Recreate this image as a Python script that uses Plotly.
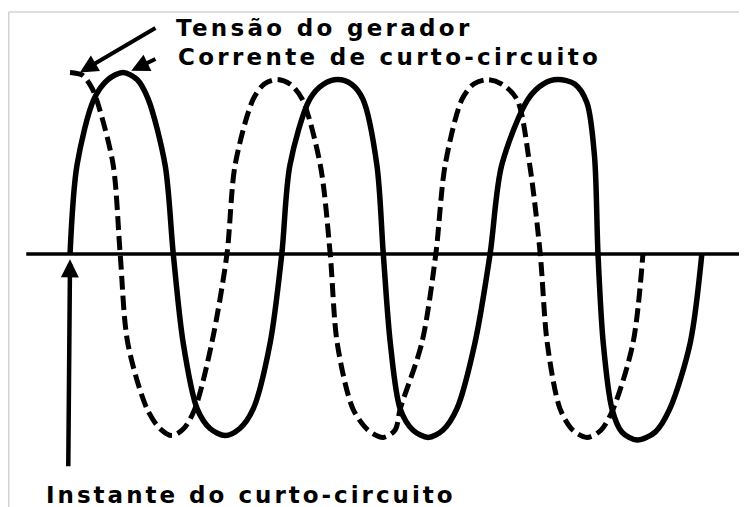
import plotly.graph_objects as go

# Electrical angle (degrees) and per-unit amplitude
# Solid curve: short-circuit current
solid_deg = [0, 12, 41, 65, 91, 115, 134, 163, 177,
             194, 218, 240, 266, 291, 314, 343, 363,
             377, 411, 435, 459, 482, 502, 526, 537,
             549, 566, 588, 614, 639, 663, 694, 720,
             740, 785, 811, 836, 865, 886, 899, 905,
             914, 929, 946, 972, 1003, 1028, 1063, 1083]
solid_pu = [0, 0.50, 0.87, 0.98, 1.02, 0.98, 0.87, 0.50, 0,
            -0.50, -0.87, -0.98, -1.02, -0.98, -0.87, -0.50, 0,
            0.50, 0.87, 0.955, 0.98, 0.955, 0.87, 0.50, 0,
            -0.50, -0.87, -0.99, -1.03, -0.99, -0.87, -0.50, 0,
            0.50, 0.87, 0.955, 0.98, 0.955, 0.85, 0.55, 0,
            -0.50, -0.87, -1.00, -1.045, -1.00, -0.87, -0.50, 0]

# Dashed curve: generator voltage
dashed_deg = [0, 21, 38, 51, 74, 86,
              99, 132, 154, 175, 195, 214, 243, 269,
              283, 314, 333, 355, 377, 398, 429, 446,
              458, 485, 511, 537, 557, 566, 603, 627,
              643, 672, 692, 716, 740, 766, 788, 806,
              818, 840, 862, 886, 910, 931, 965, 982]
dashed_pu = [1.02, 1.005, 0.93, 0.81, 0.50, 0,
             -0.50, -0.87, -0.98, -1.02, -0.98, -0.87, -0.50, 0,
             0.50, 0.87, 0.955, 0.98, 0.955, 0.87, 0.50, 0,
             -0.50, -0.87, -0.99, -1.03, -0.99, -0.87, -0.50, 0,
             0.50, 0.87, 0.955, 0.98, 0.955, 0.87, 0.50, 0,
             -0.50, -0.87, -0.99, -1.03, -0.99, -0.87, -0.50, 0]

axis_deg = [-75, 1157]
axis_pu = [0, 0]

label_voltage = "Tensão do gerador"
label_current = "Corrente de curto-circuito"
label_instant = "Instante do curto-circuito"

# page body keeps an 8px margin, so the figure is 739x499 and the ranges match the window
X_RANGE = [-106.3, 1160.4]
Y_RANGE = [-1.421, 1.382]

fig = go.Figure()
fig.add_trace(go.Scatter(x=axis_deg, y=axis_pu, mode="lines",
                         line=dict(color="black", width=3.5), hoverinfo="skip"))
fig.add_trace(go.Scatter(x=dashed_deg, y=dashed_pu, mode="lines",
                         line=dict(color="black", width=5, dash="14px,6px", shape="spline", smoothing=0.85),
                         name=label_voltage))
fig.add_trace(go.Scatter(x=solid_deg, y=solid_pu, mode="lines",
                         line=dict(color="black", width=5.5, shape="spline", smoothing=0.85),
                         name=label_current))

FONT = dict(family="DejaVu Sans", size=23, color="black", weight="bold")

def lbl(t, sp):
    return '<span style="letter-spacing:%.2fpx">' % sp + t + '</span>'

fig.add_annotation(x=180, y=1.27, xref="x", yref="y", text=lbl(label_voltage, 3.3),
                   showarrow=False, xanchor="left", yanchor="middle", font=FONT, borderpad=0)
fig.add_annotation(x=183, y=1.104, xref="x", yref="y", text=lbl(label_current, 3.3),
                   showarrow=False, xanchor="left", yanchor="middle", font=FONT, borderpad=0)
fig.add_annotation(x=-43, y=-1.351, xref="x", yref="y", text=lbl(label_instant, 3.0),
                   showarrow=False, xanchor="left", yanchor="middle", font=FONT, borderpad=0)

# Arrows
fig.add_annotation(x=17, y=1.02, ax=149, ay=1.275, xref="x", yref="y", axref="x", ayref="y",
                   text="", showarrow=True, arrowhead=2, arrowsize=0.9, arrowwidth=4, arrowcolor="black")
fig.add_annotation(x=105, y=1.03, ax=149, ay=1.10, xref="x", yref="y", axref="x", ayref="y",
                   text="", showarrow=True, arrowhead=2, arrowsize=0.9, arrowwidth=4, arrowcolor="black")
fig.add_annotation(x=0, y=-0.03, ax=-3, ay=-1.20, xref="x", yref="y", axref="x", ayref="y",
                   text="", showarrow=True, arrowhead=2, arrowsize=0.8, arrowwidth=4.5, arrowcolor="black")

# light frame lines
fig.add_shape(type="line", xref="paper", yref="paper", x0=0.001, x1=1, y0=0.992, y1=0.992,
              line=dict(color="#d3d3d3", width=1.5))
fig.add_shape(type="line", xref="paper", yref="paper", x0=0.001, x1=0.001, y0=0, y1=0.992,
              line=dict(color="#d3d3d3", width=1.5))

fig.update_xaxes(range=X_RANGE, visible=False, fixedrange=True)
fig.update_yaxes(range=Y_RANGE, visible=False, fixedrange=True)
fig.update_layout(width=739, height=499, margin=dict(l=0, r=0, t=0, b=0),
                  paper_bgcolor="white", plot_bgcolor="white", showlegend=False)

fig.write_html("out.html")
